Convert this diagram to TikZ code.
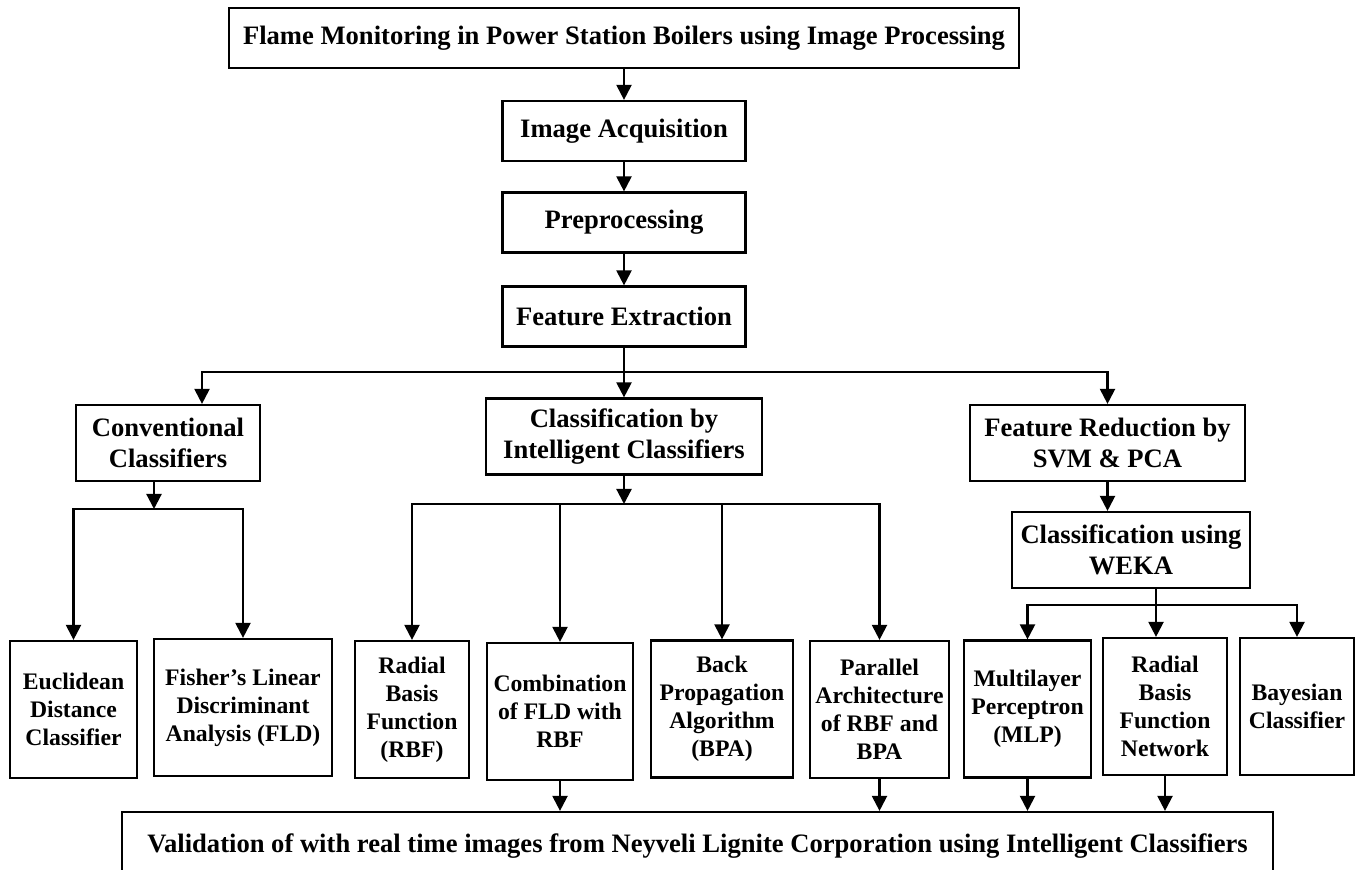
\documentclass[tikz,border=0pt]{standalone}
\usepackage{fontspec}
\setmainfont{Liberation Serif}
\usepackage{tikz}
\usetikzlibrary{arrows.meta,calc}
\tikzset{
  box/.style={draw, line width=1.1pt, align=center, inner sep=2pt, font=\bfseries\fontsize{13.3}{15.5}\selectfont},
  stage/.style={box, minimum width=121.5pt, minimum height=30pt},
  group/.style={box, minimum height=38pt},
  leaf/.style={box, minimum height=68.5pt, font=\bfseries\fontsize{11.85}{14}\selectfont},
  arrow/.style={-{Triangle[length=7.5pt,width=7.5pt]}, line width=1.1pt}
}

\begin{document}
\begin{tikzpicture}[x=0.5pt,y=-0.5pt]
    \useasboundingbox (0,0) rectangle (1358,870);
    % Main chain
    \node[box, minimum width=395pt, minimum height=30pt] (title) at (624,38) {Flame Monitoring in Power Station Boilers using Image Processing};
    \node[stage] (acq) at (624,131) {Image Acquisition};
    \node[stage] (pre) at (624,222.5) {Preprocessing};
    \node[stage] (feat) at (624,316.5) {Feature Extraction};
    % Three branches
    \node[group, minimum width=92pt] (conv) at (168,443) {Conventional\\Classifiers};
    \node[group, minimum width=138pt] (intel) at (624,436.5) {Classification by\\Intelligent Classifiers};
    \node[group, minimum width=137.5pt] (red) at (1107.5,443) {Feature Reduction by\\SVM \& PCA};
    \node[group, minimum width=119pt] (weka) at (1131,550) {Classification using\\WEKA};
    % Classifiers
    \node[leaf, minimum width=63.5pt] (eucl) at (73.5,709.5) {Euclidean\\Distance\\Classifier};
    \node[leaf, minimum width=89pt] (fisher) at (243,707.5) {Fisher’s Linear\\Discriminant\\Analysis (FLD)};
    \node[leaf, minimum width=57pt] (rbf) at (412,709.5) {Radial\\Basis\\Function\\(RBF)};
    \node[leaf, minimum width=73pt] (comb) at (560,711.5) {Combination\\of FLD with\\RBF};
    \node[leaf, minimum width=71pt] (bpa) at (722,709) {Back\\Propagation\\Algorithm\\(BPA)};
    \node[leaf, minimum width=69.5pt] (par) at (879.5,709.5) {Parallel\\Architecture\\of RBF and\\BPA};
    \node[leaf, minimum width=63.5pt] (mlp) at (1027.5,709) {Multilayer\\Perceptron\\(MLP)};
    \node[leaf, minimum width=62pt] (rbfn) at (1165,706.5) {Radial\\Basis\\Function\\Network};
    \node[leaf, minimum width=57pt] (bayes) at (1297,706.5) {Bayesian\\Classifier};
    % Validation
    \node[box, minimum width=575.5pt, minimum height=34pt] (valid) at (697.5,846) {Validation of with real time images from Neyveli Lignite Corporation using Intelligent Classifiers};
    % Junctions
    \coordinate (fj) at (624,372);
    \coordinate (cj) at (154,509);
    \coordinate (ij) at (624,504);
    \coordinate (wj) at (1156,605);
    % Arrows
    \draw[arrow] (title) -- (acq);
    \draw[arrow] (acq) -- (pre);
    \draw[arrow] (pre) -- (feat);
    \draw[arrow] (feat) -- (intel);
    \draw[arrow] (fj) -| ($(conv.north)+(34,0)$);
    \draw[arrow] (fj) -| (red.north);
    \draw[arrow] (conv.south -| cj) -- (cj);
    \draw[arrow] (cj) -| (eucl.north);
    \draw[arrow] (cj) -| (fisher.north);
    \draw[arrow] (intel) -- (ij);
    \foreach \n in {rbf,comb,bpa,par} {
      \draw[arrow] (ij) -| (\n.north);
    }
    \draw[arrow] (red) -- (red |- weka.north);
    \draw[arrow] (weka.south -| wj) -- (rbfn.north -| wj);
    \draw[arrow] (wj) -| (mlp.north);
    \draw[arrow] (wj) -| (bayes.north);
    \foreach \n in {comb,par,mlp,rbfn} {
      \draw[arrow] (\n) -- (\n |- valid.north);
    }
  \end{tikzpicture}
\end{document}
